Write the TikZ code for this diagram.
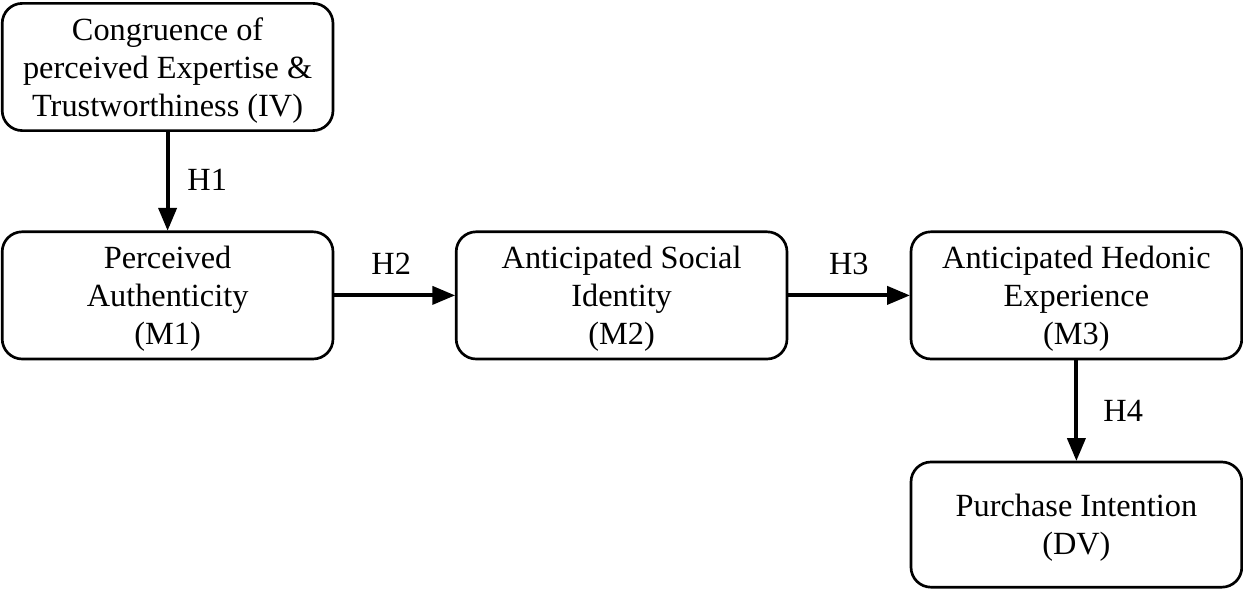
\documentclass[tikz,border=0pt]{standalone}
\usepackage{fontspec}
\setmainfont{Liberation Serif}
\usepackage{tikz}
\usetikzlibrary{arrows}

\tikzset{
  construct/.style={draw,rounded corners=0.5cm,line width=1.9pt,align=center,
    minimum width=8.27cm,minimum height=3.18cm,inner sep=0pt,text depth=0pt,
    font=\fontsize{23}{27}\selectfont},
  hyplabel/.style={font=\fontsize{23}{27}\selectfont},
  hyp/.style={->,line width=2.8pt}
}

\begin{document}
\begin{tikzpicture}[line cap=round,line join=round,>=triangle 45,x=1.0cm,y=1.0cm]
  \useasboundingbox (0,0) rectangle (31.075,14.725);
% constructs
\node[construct] (iv) at (4.19,13.05) {Congruence of\\perceived Expertise \&\\Trustworthiness (IV)};
\node[construct] (m1) at (4.19,7.34) {Perceived\\Authenticity\\(M1)};
\node[construct] (m2) at (15.54,7.34) {Anticipated Social\\Identity\\(M2)};
\node[construct] (m3) at (26.91,7.34) {Anticipated Hedonic\\Experience\\(M3)};
\node[construct,minimum height=3.13cm] (dv) at (26.91,1.61) {Purchase Intention\\(DV)};
% hypotheses
\draw[hyp] (iv) -- (m1);
\draw[hyp] (m1) -- (m2);
\draw[hyp] (m2) -- (m3);
\draw[hyp] (m3) -- (dv);
\node[hyplabel] (h1) at (5.18,10.22) {H1};
\node[hyplabel] (h2) at (9.78,8.12) {H2};
\node[hyplabel] (h3) at (21.22,8.12) {H3};
\node[hyplabel] (h4) at (28.08,4.45) {H4};
\end{tikzpicture}
\end{document}
